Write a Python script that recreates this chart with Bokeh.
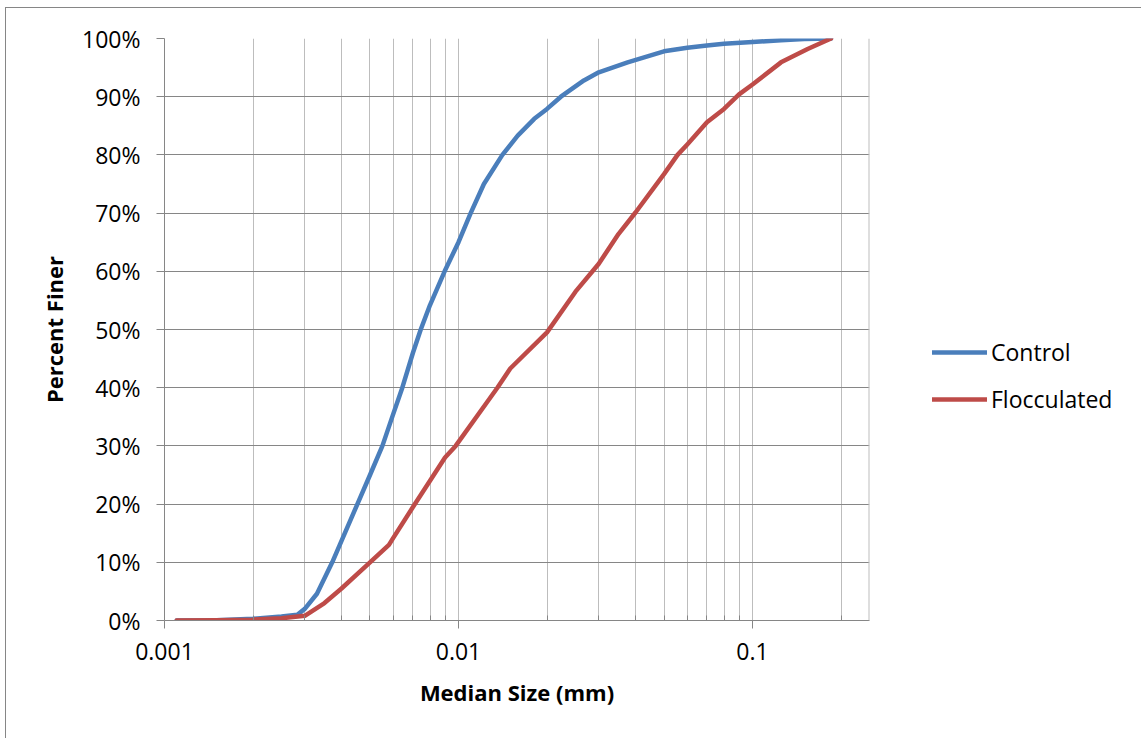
from bokeh.plotting import figure
from bokeh.models import (FixedTicker, CustomJSTickFormatter, Legend, LegendItem,
                          Span, Range1d)
from bokeh.embed import file_html
from bokeh.resources import INLINE

# ---- data ----
control_size = [0.0011, 0.0015, 0.002, 0.0025, 0.00283, 0.003, 0.0033, 0.00372, 0.004,
                0.00453, 0.005, 0.00551, 0.006, 0.00644, 0.007, 0.00744, 0.008, 0.00897,
                0.01, 0.011, 0.0122, 0.0141, 0.0159, 0.0181, 0.02, 0.0223, 0.0267, 0.03,
                0.0376, 0.05, 0.06, 0.07, 0.08, 0.1, 0.125, 0.15, 0.185]
control_finer = [0, 0.05, 0.3, 0.7, 1.0, 2.0, 4.6, 10, 13.7,
                 20, 25, 30, 35.5, 40, 46, 50, 54.2, 60,
                 65, 70, 75.0, 80, 83.3, 86.2, 87.9, 90, 92.8, 94.2,
                 95.9, 97.8, 98.4, 98.8, 99.1, 99.4, 99.7, 99.9, 100]

floc_size = [0.0011, 0.0015, 0.002, 0.0025, 0.003, 0.0035, 0.004, 0.005, 0.0058, 0.006,
             0.007, 0.008, 0.009, 0.00978, 0.0125, 0.01356, 0.015, 0.02, 0.025, 0.03,
             0.035, 0.04, 0.05, 0.0556, 0.06, 0.07, 0.08, 0.09, 0.1, 0.125, 0.154, 0.185]
floc_finer = [0, 0.05, 0.15, 0.4, 0.8, 3.0, 5.5, 10, 13.0, 14.2,
              19.5, 24, 28, 30, 37.5, 40, 43.3, 49.5, 56.5, 61.3,
              66.4, 70.1, 76.7, 80, 81.8, 85.6, 87.9, 90.4, 92.1, 95.9, 98.2, 100]

series_names = ["Control", "Flocculated"]
series_colors = ["#4A7EBB", "#BE4B48"]

x_major_ticks = [0.001, 0.01, 0.1]
x_minor_ticks = [0.002, 0.003, 0.004, 0.005, 0.006, 0.007, 0.008, 0.009,
                 0.02, 0.03, 0.04, 0.05, 0.06, 0.07, 0.08, 0.09, 0.2]
y_ticks = [0, 10, 20, 30, 40, 50, 60, 70, 80, 90, 100]
x_min, x_max = 0.001, 0.25
y_min, y_max = 0, 100

FONT = "Open Sans"

p = figure(frame_width=705, frame_height=582, x_axis_type="log",
           x_range=Range1d(x_min, x_max), y_range=Range1d(y_min, y_max),
           output_backend="svg", toolbar_location=None,
           min_border_left=158, min_border_right=272,
           min_border_top=30, min_border_bottom=118)
p.background_fill_color = "white"
p.border_fill_color = "white"
p.outline_line_color = None
p.styles = {"margin-left": "5px", "margin-top": "7px",
            "border-left": "1px solid #868686", "border-top": "1px solid #868686"}

# grids
p.ygrid.grid_line_color = "#868686"
p.ygrid.grid_line_width = 1
p.xgrid.grid_line_color = "#BDBDBD"
p.xgrid.grid_line_width = 1
p.xgrid.minor_grid_line_color = "#BDBDBD"
p.xgrid.minor_grid_line_width = 1

# right edge line
p.add_layout(Span(location=x_max, dimension="height", line_color="#BDBDBD", line_width=2))

# axes
p.xaxis.ticker = FixedTicker(ticks=x_major_ticks, minor_ticks=x_minor_ticks)
p.xaxis.formatter = CustomJSTickFormatter(code="return String(Number(tick.toPrecision(6)));")
p.yaxis.ticker = FixedTicker(ticks=y_ticks)
p.yaxis.formatter = CustomJSTickFormatter(code="return tick.toFixed(0) + '%';")

for ax in (p.xaxis[0], p.yaxis[0]):
    ax.axis_line_color = "#868686"
    ax.axis_line_width = 1
    ax.major_tick_line_color = "#868686"
    ax.minor_tick_line_color = "#868686"
    ax.major_tick_in = 0
    ax.major_tick_out = 8
    ax.major_label_text_font = FONT
    ax.major_label_text_font_size = "23px"
    ax.major_label_text_color = "#000000"
    ax.axis_label_text_font = FONT
    ax.axis_label_text_font_size = "22px"
    ax.axis_label_text_font_style = "bold"
    ax.axis_label_text_color = "#000000"

p.xaxis.minor_tick_in = 5
p.xaxis.minor_tick_out = 0
p.yaxis.minor_tick_line_color = None
p.xaxis.major_label_standoff = 14
p.yaxis.major_label_standoff = 16
p.xaxis.axis_label = "Median Size (mm)"
p.yaxis.axis_label = "Percent Finer"
p.xaxis.axis_label_standoff = 14
p.yaxis.axis_label_standoff = 10

r1 = p.line(control_size, control_finer, line_color=series_colors[0], line_width=4.5,
            line_join="round", line_cap="round")
r2 = p.line(floc_size, floc_finer, line_color=series_colors[1], line_width=4.5,
            line_join="round", line_cap="round")

legend = Legend(items=[LegendItem(label=series_names[0], renderers=[r1]),
                       LegendItem(label=series_names[1], renderers=[r2])],
                location=(63, 205), orientation="vertical",
                glyph_width=55, glyph_height=24, label_height=24, spacing=15,
                label_standoff=4, padding=0, margin=0,
                border_line_color=None, background_fill_alpha=0,
                label_text_font=FONT, label_text_font_size="23px",
                label_text_color="#000000")
p.add_layout(legend, "right")

open("out.html", "w").write(file_html(p, INLINE))
